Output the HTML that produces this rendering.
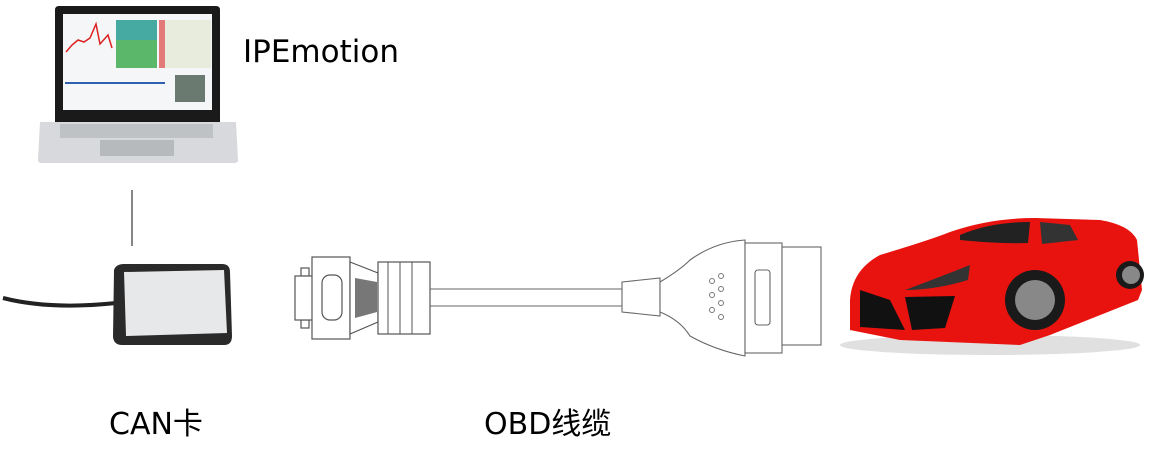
<!DOCTYPE html>
<html><head><meta charset="utf-8"><style>
body{margin:0;background:#fff;width:1162px;height:453px;overflow:hidden;position:relative;font-family:"Liberation Sans","Noto Sans CJK SC",sans-serif}
.t{position:absolute;color:#000;font-size:30px;font-family:"DejaVu Sans","Noto Sans CJK SC",sans-serif;line-height:1}
</style></head><body>
<svg width="1162" height="453" style="position:absolute;left:0;top:0">
<!-- laptop -->
<path d="M55,10 Q55,6 59,6 L216,6 Q220,6 220,10 L220,122 L55,122Z" fill="#1a1a1a"/>
<rect x="63" y="14" width="149" height="96" fill="#f4f6f8"/>
<polyline points="66,52 72,45 78,40 84,42 90,38 96,24 100,44 108,35 112,48" fill="none" stroke="#d22" stroke-width="1.5"/>
<rect x="116" y="20" width="41" height="48" fill="#5bb86a"/>
<rect x="116" y="20" width="41" height="20" fill="#3aa0c8" opacity=".6"/>
<rect x="159" y="20" width="8" height="48" fill="#d44" opacity=".7"/>
<rect x="165" y="20" width="46" height="48" fill="#e8ecdc"/>
<rect x="175" y="75" width="30" height="27" fill="#6a7a70"/>
<rect x="65" y="82" width="100" height="2" fill="#3060b0"/>
<path d="M40,122 L236,122 L238,160 Q238,163 234,163 L42,163 Q38,163 38,160Z" fill="#d7d9dc"/>
<rect x="60" y="124" width="153" height="14" fill="#bfc2c5"/>
<rect x="100" y="140" width="74" height="16" fill="#b7babd"/>
<!-- connector line -->
<line x1="132" y1="190" x2="132" y2="246" stroke="#444" stroke-width="1.3"/>
<!-- CAN box -->
<path d="M3,298 Q50,310 116,303" fill="none" stroke="#222" stroke-width="4"/>
<path d="M114,270 Q116,264 124,264 L222,264 Q230,264 230,272 L232,336 Q232,345 224,345 L122,345 Q114,345 113,337Z" fill="#2a2a2a"/>
<path d="M124,272 L224,270 L227,333 L126,336Z" fill="#e6e8ea"/>
<!-- DB9 -->
<g fill="#fff" stroke="#555" stroke-width="1.2">
<rect x="301" y="268" width="8" height="8"/><rect x="301" y="320" width="8" height="8"/>
<rect x="295" y="276" width="18" height="44"/>
<rect x="312" y="257" width="38" height="82"/>
<rect x="322" y="275" width="20" height="45" rx="8"/>
<path d="M350,262 L378,273 L378,322 L350,334Z"/>
<rect x="378" y="262" width="52" height="72"/>
</g>
<path d="M355,278 L377,282 L377,312 L355,318Z" fill="#777"/>
<g stroke="#555"><line x1="388" y1="262" x2="388" y2="334"/><line x1="400" y1="262" x2="400" y2="334"/><line x1="412" y1="262" x2="412" y2="334"/></g>
<line x1="430" y1="289" x2="625" y2="289" stroke="#666"/>
<line x1="430" y1="306" x2="625" y2="306" stroke="#666"/>
<!-- OBD -->
<g fill="#fff" stroke="#666" stroke-width="1.1">
<path d="M622,282 L660,278 L660,316 L622,312Z"/>
<path d="M660,282 Q680,270 690,260 Q715,242 745,240 L745,356 Q715,350 690,336 Q680,320 660,312Z"/>
<rect x="745" y="243" width="37" height="110"/>
<rect x="782" y="247" width="39" height="98"/>
<rect x="755" y="270" width="15" height="55" rx="3"/>
</g>
<g fill="none" stroke="#777"><circle cx="712" cy="281" r="2.5"/><circle cx="721" cy="276" r="2.5"/><circle cx="712" cy="295" r="2.5"/><circle cx="721" cy="289" r="2.5"/><circle cx="712" cy="310" r="2.5"/><circle cx="721" cy="303" r="2.5"/><circle cx="721" cy="317" r="2.5"/></g>
<!-- car -->
<ellipse cx="990" cy="345" rx="150" ry="10" fill="#ccc" opacity=".6"/>
<path d="M850,300 Q852,270 880,255 Q930,240 950,232 Q990,218 1035,218 L1100,220 Q1130,225 1137,240 L1142,290 L1138,300 L1050,335 L1020,345 L900,340 L850,330Z" fill="#e8130e"/>
<path d="M960,235 Q990,222 1030,222 L1028,243 Q1000,244 960,240Z" fill="#222"/>
<path d="M1040,222 L1070,225 L1078,240 L1042,244Z" fill="#333"/>
<path d="M860,290 L890,300 L905,330 L860,327Z" fill="#111"/>
<path d="M905,297 L955,296 L945,328 L912,330Z" fill="#111"/>
<path d="M905,290 Q945,275 970,265 L968,280 Q935,290 905,290Z" fill="#333"/>
<circle cx="1035" cy="300" r="30" fill="#1a1a1a"/><circle cx="1035" cy="300" r="20" fill="#888"/>
<circle cx="1130" cy="275" r="14" fill="#1a1a1a"/><circle cx="1131" cy="275" r="9" fill="#888"/>
</svg>
<div class="t" style="left:243px;top:37px;font-size:31px">IPEmotion</div>
<div class="t" style="left:109px;top:410px">CAN卡</div>
<div class="t" style="left:484px;top:410px">OBD线缆</div>
</body></html>
